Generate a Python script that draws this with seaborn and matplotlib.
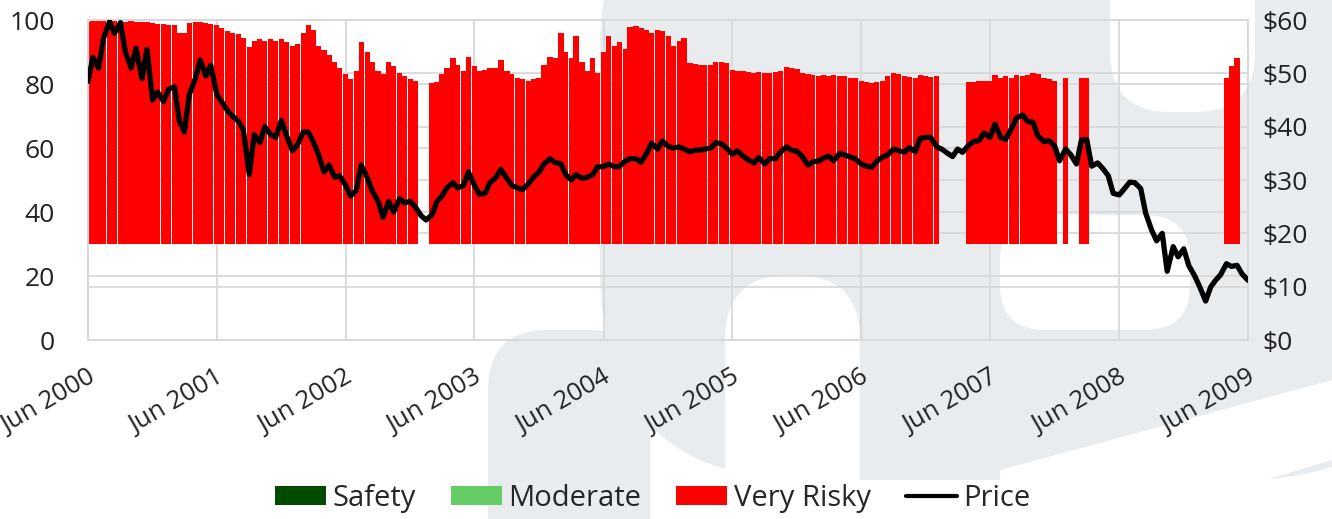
import numpy as np
import pandas as pd
import matplotlib
matplotlib.use("Agg")
import matplotlib.pyplot as plt
import matplotlib.transforms as mtrans
import seaborn as sns
from matplotlib.patches import FancyBboxPatch, Polygon, Patch
from matplotlib.lines import Line2D

# ---------------- data (semi-monthly readings, Jun 2000 .. Jun 2009) ----------------
start_date = "2000-06-01"

price = [
    48.5, 53.0, 51.0, 56.6, 59.7, 57.5, 59.5, 54.0, 51.0, 54.7,
    49.0, 54.5, 45.0, 46.5, 44.7, 47.0, 47.5, 41.0, 39.0, 46.0,
    49.0, 52.5, 49.5, 51.5, 46.0, 44.7, 43.0, 42.0, 41.0, 39.5,
    31.0, 38.5, 37.0, 40.0, 38.5, 38.0, 41.2, 38.4, 35.5, 36.5,
    39.0, 39.0, 37.2, 35.0, 31.5, 32.8, 30.5, 30.8, 29.0, 27.0,
    28.0, 32.8, 30.5, 28.0, 26.0, 23.0, 26.0, 24.0, 26.5, 25.7,
    26.0, 25.0, 23.3, 22.5, 23.5, 26.0, 27.0, 28.5, 29.5, 28.5,
    29.0, 31.5, 29.0, 27.3, 27.5, 29.5, 30.5, 32.0, 30.3, 29.0,
    28.5, 28.2, 29.3, 30.5, 31.5, 33.0, 34.0, 33.3, 33.0, 31.0,
    30.0, 31.0, 30.3, 30.5, 31.0, 32.5, 32.5, 33.0, 32.5, 32.5,
    33.5, 34.0, 34.0, 33.3, 35.0, 36.9, 35.8, 37.3, 36.3, 36.0,
    36.2, 35.8, 35.3, 35.6, 35.6, 35.8, 36.0, 37.0, 36.8, 36.0,
    34.8, 35.5, 34.5, 33.8, 33.2, 34.2, 33.0, 34.0, 34.0, 35.2,
    36.2, 35.6, 35.4, 34.5, 32.8, 33.4, 33.6, 34.1, 34.5, 33.6,
    35.0, 34.7, 34.3, 34.0, 33.0, 32.6, 32.4, 33.5, 34.3, 34.7,
    35.8, 35.5, 35.2, 36.1, 35.3, 37.8, 38.0, 38.0, 36.2, 35.8,
    35.0, 34.4, 35.8, 35.2, 36.5, 37.2, 37.4, 38.8, 38.0, 40.5,
    38.0, 37.6, 39.7, 41.6, 42.2, 41.0, 40.8, 38.2, 37.2, 37.4,
    36.4, 33.6, 35.8, 34.8, 33.0, 37.5, 37.6, 32.6, 33.2, 32.2,
    30.8, 27.5, 27.2, 28.3, 29.6, 29.5, 28.4, 23.8, 20.6, 18.6,
    20.0, 12.9, 17.5, 15.6, 17.1, 14.0, 12.0, 10.0, 7.3, 9.9,
    11.2, 12.2, 14.3, 13.8, 14.0, 12.4, 11.2,
]

nan = np.nan
very_risky = [
    99.5, 99.8, 99.6, 99.7, 99.5, 99.8, 99.6, 99.5, 99.7, 99.4,
    99.5, 99.3, 99.0, 98.7, 98.7, 98.5, 98.5, 96.0, 96.0, 99.0,
    99.3, 99.3, 99.0, 98.8, 98.4, 97.5, 96.5, 96.0, 95.5, 94.5,
    91.5, 93.5, 94.0, 93.5, 94.0, 93.5, 94.0, 93.0, 92.0, 92.5,
    96.0, 98.4, 97.0, 92.0, 90.5, 89.0, 87.0, 85.0, 83.0, 81.5,
    84.0, 93.0, 90.0, 87.0, 84.0, 83.0, 87.0, 85.5, 83.5, 82.5,
    81.5, 81.0, nan, nan, 80.3, 80.5, 83.0, 85.0, 88.0, 86.0,
    84.0, 88.4, 85.5, 84.0, 84.5, 85.0, 85.0, 87.5, 84.0, 83.0,
    82.0, 81.5, 81.0, 81.5, 82.0, 86.0, 88.4, 88.0, 96.0, 90.0,
    88.0, 95.0, 87.0, 84.0, 88.0, 83.4, 90.0, 95.0, 92.0, 93.0,
    91.0, 97.8, 98.0, 97.5, 97.0, 96.0, 97.0, 96.5, 95.0, 92.0,
    93.5, 94.5, 86.5, 86.3, 86.0, 86.0, 85.8, 87.0, 87.0, 86.5,
    84.4, 84.0, 84.0, 83.8, 83.5, 83.8, 83.4, 83.5, 83.6, 84.0,
    85.3, 85.0, 84.7, 83.5, 83.0, 82.8, 82.5, 82.7, 82.5, 82.7,
    82.4, 82.6, 82.0, 82.0, 80.8, 80.5, 80.3, 80.5, 80.8, 82.5,
    83.3, 83.0, 82.5, 82.2, 81.8, 82.8, 82.5, 82.2, 82.5, nan,
    nan, nan, nan, nan, 80.5, 80.6, 80.8, 81.0, 81.0, 82.8,
    82.0, 82.5, 82.0, 82.8, 82.5, 82.7, 83.4, 83.0, 82.0, 81.5,
    81.0, nan, 82.0, nan, nan, 82.0, 82.0, nan, nan, nan,
    nan, nan, nan, nan, nan, nan, nan, nan, nan, nan,
    nan, nan, nan, nan, nan, nan, nan, nan, nan, nan,
    nan, nan, 82.0, 85.5, 88.0, nan, nan,
]
risk_base = 30

left_ticks = [0, 20, 40, 60, 80, 100]
right_ticks = [0, 10, 20, 30, 40, 50, 60]
right_labels = ["$0", "$10", "$20", "$30", "$40", "$50", "$60"]
year_ticks = list(range(2000, 2010))
legend_labels = ["Safety", "Moderate", "Very Risky", "Price"]
legend_colors = ["#004b00", "#66cc66", "#ff0000", "#000000"]

# ---------------- figure ----------------
sns.set_theme(style="white")
plt.rcParams["font.family"] = ["Open Sans", "DejaVu Sans"]

W, H = 1332, 519
fig = plt.figure(figsize=(W / 100, H / 100), dpi=100)
fig.patch.set_facecolor("white")

# watermark (background logo, drawn in pixel coordinates)
bg = fig.add_axes([0, 0, 1, 1], zorder=0)
bg.set_xlim(0, W)
bg.set_ylim(H, 0)
bg.axis("off")
wm = "#e9ecef"
def rbox(x0, y0, x1, y1, r, color):
    bg.add_patch(FancyBboxPatch((x0, y0), x1 - x0, y1 - y0,
                                boxstyle=f"round,pad=0,rounding_size={r}",
                                fc=color, ec="none"))
rbox(600, -160, 1450, 480, 210, wm)
rbox(488, 330, 650, 640, 60, wm)
rbox(725, 275, 860, 640, 65, "white")
rbox(1000, 215, 1190, 330, 45, "white")
rbox(1110, -200, 1255, 112, 60, "white")
bg.add_patch(Polygon([(1000, 470), (1332, 380), (1332, 460), (1000, 560)],
                     closed=True, fc="white", ec="none"))

ax = fig.add_axes([88 / W, 1 - 340 / H, 1160 / W, 320 / H], zorder=1)
ax.set_facecolor("none")

dates = pd.date_range(start_date, periods=len(price), freq="SMS")
df = pd.DataFrame({"date": dates, "price": price, "risk": very_risky})

grid_c = "#d9d9d9"
# gridlines (left and right scales) behind the bars
for v in left_ticks:
    ax.axhline(v, color=grid_c, lw=1.3, zorder=0)
for v in right_ticks:
    ax.axhline(v * 100 / 60, color=grid_c, lw=1.3, zorder=0)
for y in year_ticks:
    ax.axvline(pd.Timestamp(f"{y}-06-01"), color=grid_c, lw=1.3, zorder=0)

bars = df.dropna(subset=["risk"])
ax.bar(bars["date"], bars["risk"] - risk_base, bottom=risk_base, width=14.8,
       color="#ff0000", linewidth=0, zorder=2)

ax.set_xlim(pd.Timestamp("2000-06-01"), pd.Timestamp("2009-06-01"))
ax.set_ylim(0, 100)
ax.set_yticks(left_ticks)
ax.set_xticks([pd.Timestamp(f"{y}-06-01") for y in year_ticks])
ax.set_xticklabels([f"Jun {y}" for y in year_ticks], rotation=30,
                   ha="right", va="center", rotation_mode="anchor")
ax.tick_params(axis="x", length=0, pad=26, labelsize=18.5, colors="#222222")
ax.tick_params(axis="y", length=0, pad=24, labelsize=19, colors="#222222")
shift = mtrans.ScaledTranslation(5 / 100, 0, fig.dpi_scale_trans)
for lab in ax.get_xticklabels():
    lab.set_transform(lab.get_transform() + shift)
for s in ax.spines.values():
    s.set_color(grid_c)
    s.set_linewidth(1.5)
ax.set_xlabel("")
ax.set_ylabel("")

ax2 = ax.twinx()
ax2.set_zorder(3)
ax2.patch.set_visible(False)
sns.lineplot(data=df, x="date", y="price", ax=ax2, color="black", lw=3.8,
             legend=False)
ax2.set_ylim(0, 60)
ax2.set_yticks(right_ticks)
ax2.set_yticklabels(right_labels)
ax2.tick_params(axis="y", length=0, pad=10, labelsize=19, colors="#222222")
for s in ax2.spines.values():
    s.set_visible(False)
ax2.set_ylabel("")
ax2.set_xlabel("")
ax2.set_xlim(pd.Timestamp("2000-06-01"), pd.Timestamp("2009-06-01"))

handles = [Patch(fc=legend_colors[0], ec="none"),
           Patch(fc=legend_colors[1], ec="none"),
           Patch(fc=legend_colors[2], ec="none"),
           Line2D([0], [0], color=legend_colors[3], lw=3)]
fig.legend(handles, legend_labels, loc="center", bbox_to_anchor=(0.49, 0.04),
           ncol=4, frameon=False, fontsize=21, handlelength=1.75,
           handleheight=0.65, handletextpad=0.22, columnspacing=1.2)

fig.savefig("out.png", dpi=100, facecolor="white")
